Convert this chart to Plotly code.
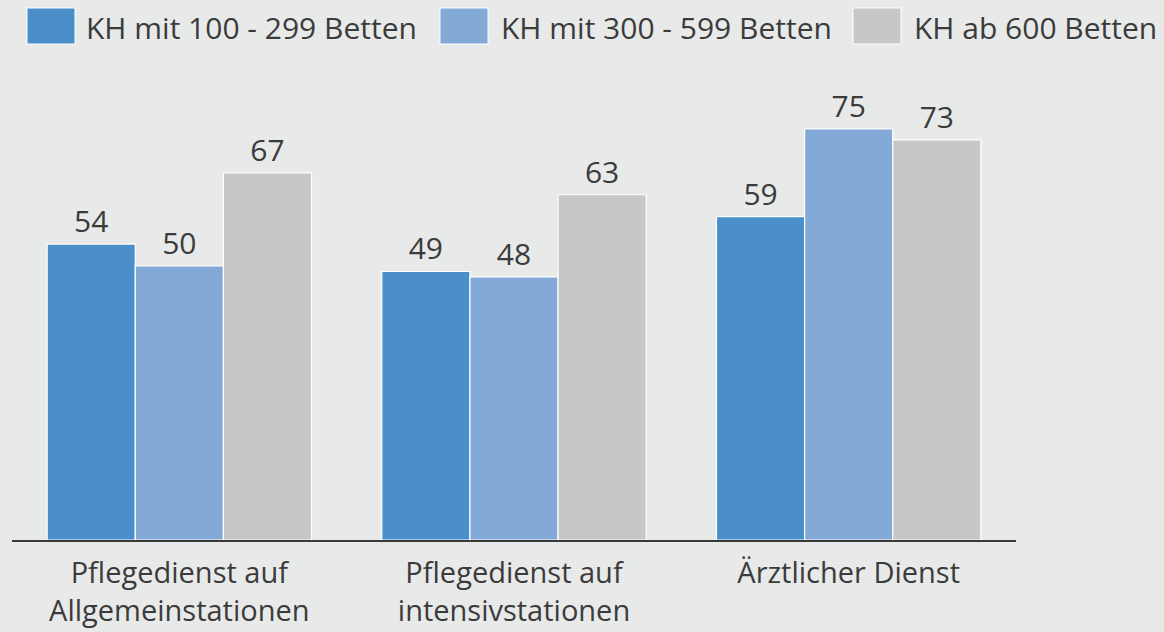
import plotly.graph_objects as go

categories = ["Pflegedienst auf<br>Allgemeinstationen", "Pflegedienst auf<br>intensivstationen", "Ärztlicher Dienst"]
series_names = ["KH mit 100 - 299 Betten", "KH mit 300 - 599 Betten", "KH ab 600 Betten"]
values_small = [54, 49, 59]
values_mid = [50, 48, 75]
values_large = [67, 63, 73]
colors = ["#4a8fca", "#83a9d7", "#c6c7c9"]

FONT = "Open Sans"
FS = 30
TXT = "#3b3b3b"
BG = "#e8e9e9"

fig = go.Figure()
for name, vals, col in zip(series_names, [values_small, values_mid, values_large], colors):
    fig.add_trace(go.Bar(
        x=categories, y=vals, name=name,
        marker=dict(color=col, line=dict(color="#ffffff", width=1.2)),
        text=[str(v) for v in vals], textposition="outside",
        textfont=dict(family=FONT, size=FS, color=TXT),
        cliponaxis=False,
    ))

W, H = 1164, 632
ml, mr, mt, mb = 12, 148, 80, 92
pw, ph = W - ml - mr, H - mt - mb

def px_to_paper(x, y):
    return (x - ml) / pw, (H - mb - y) / ph

# custom legend
legend_pos = [(27, 84), (440, 499), (853, 912)]
shapes = []
annotations = []
for (sx, tx), name, col in zip(legend_pos, series_names, colors):
    x0, y0 = px_to_paper(sx, 44)
    x1, y1 = px_to_paper(sx + 48, 8)
    shapes.append(dict(type="rect", xref="paper", yref="paper", x0=x0, x1=x1, y0=y0, y1=y1,
                       fillcolor=col, line=dict(color="#ffffff", width=1)))
    ax, ay = px_to_paper(tx, 27)
    annotations.append(dict(xref="paper", yref="paper", x=ax, y=ay, xanchor="left", yanchor="middle",
                            text=name, showarrow=False, font=dict(family=FONT, size=FS, color=TXT)))

fig.update_layout(
    width=W, height=H,
    margin=dict(l=ml, r=mr, t=mt, b=mb, autoexpand=False),
    paper_bgcolor=BG, plot_bgcolor=BG,
    barmode="group", bargap=0.21, bargroupgap=0,
    showlegend=False,
    shapes=shapes, annotations=annotations,
    font=dict(family=FONT, size=FS, color=TXT),
    xaxis=dict(showline=True, linecolor="#3a3a3a", linewidth=2, ticks="", showgrid=False,
               automargin=False, ticklabelstandoff=6,
               tickfont=dict(family=FONT, size=29, color=TXT)),
    yaxis=dict(range=[0, 460 / 5.48], visible=False, showgrid=False, automargin=False),
)

fig.write_html("out.html", config={"displayModeBar": False},
               post_script="document.body.style.margin='0';document.body.style.background='%s';" % BG)
